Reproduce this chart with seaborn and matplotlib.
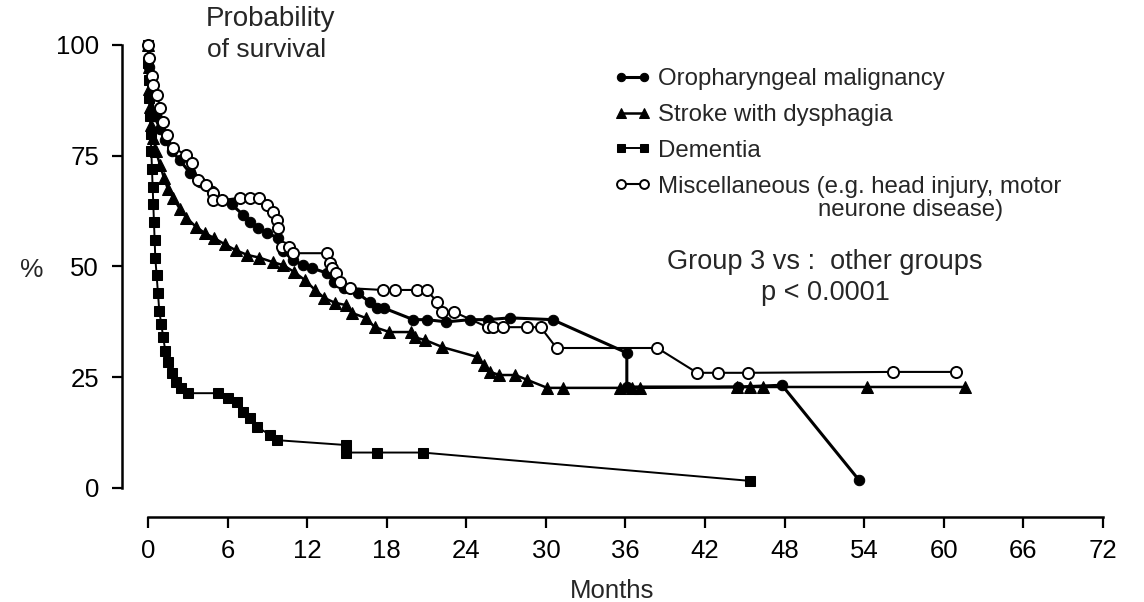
import matplotlib
matplotlib.use("Agg")
import matplotlib.pyplot as plt
import seaborn as sns
import numpy as np
import pandas as pd

# ---------------- data ----------------
oro_x = [0, 0.1, 0.2, 0.5, 0.9, 1.3, 1.8, 2.4, 3.2, 3.9, 4.8, 5.6, 6.3, 7.2, 7.7, 8.3, 9.0, 9.8,
         10.2, 10.9, 11.7, 12.4, 13.5, 14.0, 14.8, 15.8, 16.7, 17.3, 17.8, 20.0, 21.0, 22.5,
         24.3, 25.6, 27.3, 30.5, 36.1, 36.1, 44.5, 47.8, 53.6]
oro_y = [100, 95, 89, 84, 81, 78.5, 76, 74, 71, 69, 67, 65, 64, 61.6, 60, 58.7, 57.6, 56.4,
         53.5, 51.5, 50.3, 49.6, 48.5, 46.5, 45.2, 44.0, 42, 40.6, 40.6, 38, 38, 37.5,
         38, 38, 38.4, 38, 30.5, 22.8, 22.8, 23.2, 1.8]

stroke_x = [0, 0.05, 0.1, 0.15, 0.25, 0.4, 0.6, 0.9, 1.2, 1.5, 1.9, 2.4, 2.9, 3.6, 4.3, 5.0, 5.8,
            6.6, 7.5, 8.4, 9.4, 10.2, 11.0, 11.8, 12.6, 13.3, 14.1, 14.9, 15.4, 16.4, 17.1, 18.2,
            19.8, 20.1, 20.9, 22.2, 24.8, 25.3, 25.8, 26.5, 27.7, 28.6, 30.1, 31.3, 35.6, 36.5,
            37.1, 44.4, 45.4, 46.4, 54.2, 61.6]
stroke_y = [100, 95, 90, 86, 82, 79, 76, 73, 70, 67.5, 65.5, 63, 61, 59, 57.5, 56.4, 55,
            53.7, 52.6, 52, 51, 50.3, 48.8, 47, 44.7, 42.9, 41.8, 41.3, 39.5, 38.4, 36.3, 35.2,
            35.2, 34, 33.4, 31.8, 29.6, 27.8, 26.2, 25.5, 25.5, 24.4, 22.6, 22.6, 22.6, 22.6,
            22.6, 22.8, 22.8, 22.8, 22.8, 22.8]

dem_x = [0, 0, 0.05, 0.1, 0.15, 0.2, 0.25, 0.3, 0.35, 0.4, 0.45, 0.5, 0.55, 0.65, 0.75, 0.85,
         1.0, 1.15, 1.3, 1.5, 1.8, 2.1, 2.5, 3.0, 5.3, 6.0, 6.7, 7.2, 7.7, 8.2, 9.2, 9.7,
         14.9, 14.9, 17.3, 20.7, 45.4]
dem_y = [100, 96, 92, 88, 84, 80, 76, 72, 68, 64, 60, 56, 52, 48, 44, 40,
         37, 34, 31, 28.5, 26, 24, 22.5, 21.4, 21.4, 20.3, 19.4, 17.2, 15.8, 13.8, 12.0, 10.8,
         9.7, 8.0, 8.0, 8.0, 1.6]

misc_x = [0, 0.1, 0.3, 0.4, 0.7, 0.9, 1.1, 1.4, 1.9, 2.9, 3.3, 3.8, 4.4, 4.9, 4.9, 5.6, 6.9,
          7.7, 8.4, 9.0, 9.4, 9.7, 9.8, 10.1, 10.6, 10.9, 13.5, 13.7, 13.9, 14.2, 14.5, 15.2,
          17.7, 18.6, 20.3, 21.0, 21.8, 22.2, 23.1, 25.6, 26.0, 26.8, 28.6, 29.6, 30.8, 38.4,
          41.4, 43.0, 45.2, 56.2, 60.9]
misc_y = [100, 97, 93, 91, 88.7, 85.8, 82.6, 79.7, 76.7, 75.2, 73.4, 69.5, 68.4, 66.6, 65, 65, 65.5,
          65.5, 65.5, 63.9, 62.3, 60.5, 58.7, 54.4, 54.4, 53, 53, 50.8, 49.7, 48.5, 46.5, 45.1,
          44.7, 44.7, 44.7, 44.7, 42, 39.7, 39.7, 36.3, 36.3, 36.3, 36.3, 36.3, 31.6, 31.6,
          26, 26, 26, 26.2, 26.2]

labels = ["Oropharyngeal malignancy", "Stroke with dysphagia", "Dementia",
          "Miscellaneous (e.g. head injury, motor"]
x_ticks = [0, 6, 12, 18, 24, 30, 36, 42, 48, 54, 60, 66, 72]
y_ticks = [0, 25, 50, 75, 100]

# ---------------- styling ----------------
sns.set_style("white")
plt.rcParams['font.family'] = ['Liberation Sans', 'DejaVu Sans']

W, H = 1144, 602
fig = plt.figure(figsize=(W / 100, H / 100), dpi=100)
ax = fig.add_axes([122 / W, 85 / H, (1103 - 122) / W, 0.8135])

series = [
    (oro_x, oro_y, dict(marker='o', markersize=7.5, markerfacecolor='black',
                        markeredgecolor='black', linewidth=2.2)),
    (stroke_x, stroke_y, dict(marker='^', markersize=9, markerfacecolor='black',
                              markeredgecolor='black', linewidth=1.8)),
    (dem_x, dem_y, dict(marker='s', markersize=7.5, markerfacecolor='black',
                        markeredgecolor='black', linewidth=1.4)),
    (misc_x, misc_y, dict(marker='o', markersize=8, markerfacecolor='white',
                          markeredgecolor='black', markeredgewidth=1.4, linewidth=1.5)),
]

for (xs, ys, kw), lab in zip(series, labels):
    df = pd.DataFrame({"Months": xs, "pct": ys})
    sns.lineplot(data=df, x="Months", y="pct", ax=ax, sort=False, estimator=None,
                 color='black', label=lab, legend=False, **kw)

ax.set_xlim(-1.96, 72)
ax.set_ylim(-6.55, 104)

for s in ['top', 'right']:
    ax.spines[s].set_visible(False)
ax.spines['left'].set_bounds(0, 100)
ax.spines['bottom'].set_bounds(0, 72)
for s in ['left', 'bottom']:
    ax.spines[s].set_linewidth(1.8)
    ax.spines[s].set_color('black')

ax.set_xticks(x_ticks)
ax.set_xticklabels([str(t) for t in x_ticks])
ax.set_yticks(y_ticks)
ax.set_yticklabels([str(t) for t in y_ticks])
ax.tick_params(axis='x', direction='out', length=8, width=1.6, pad=8, labelsize=18.5,
               bottom=True, colors='black')
ax.tick_params(axis='y', direction='out', length=7.5, width=1.6, pad=9, labelsize=18.5,
               left=True, colors='black')
ax.set_xlabel("Months", fontsize=18.5, labelpad=11)
ax.set_ylabel("")
ax.grid(False)

# legend
handles = ax.get_lines()[:4]
leg = ax.legend(handles, labels, numpoints=2, frameon=False, loc='upper left',
                bbox_to_anchor=(614 / W, 1 - 68 / H), bbox_transform=fig.transFigure,
                fontsize=17.3, handlelength=1.55, handletextpad=0.3, labelspacing=0.58,
                borderpad=0, borderaxespad=0, markerscale=0.8)
fig.text(818 / W, 1 - 210 / H, "neurone disease)", fontsize=17.3, ha='left', va='center')

# annotations
fig.text(270 / W, 1 - 19 / H, "Probability", fontsize=20, ha='center', va='center')
fig.text(267 / W, 1 - 50 / H, "of survival", fontsize=19, ha='center', va='center')
fig.text(32 / W, 1 - 270 / H, "%", fontsize=19, ha='center', va='center')
fig.text(825 / W, 1 - 262 / H, "Group 3 vs :  other groups", fontsize=19.5, ha='center',
         va='center')
fig.text(825 / W, 1 - 293 / H, "p < 0.0001", fontsize=19.5, ha='center', va='center')

fig.savefig("out.png", dpi=100, facecolor='white')
